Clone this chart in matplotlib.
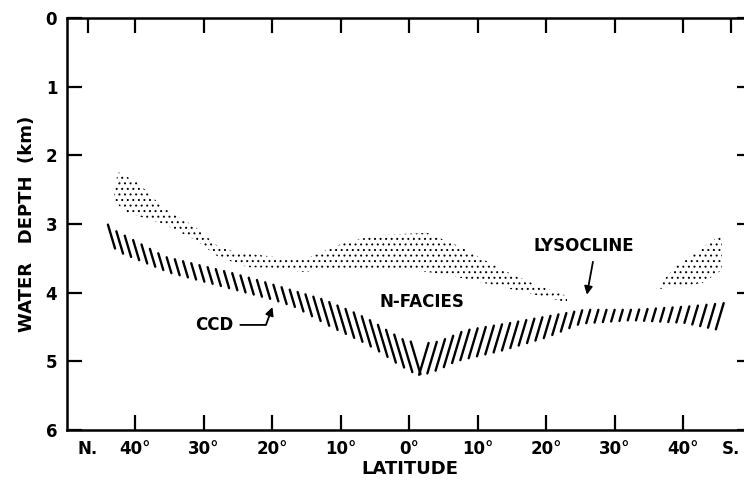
import numpy as np
import matplotlib.pyplot as plt
from matplotlib.collections import LineCollection

# Latitude runs north (negative) to south (positive), depth in km
lyso_top_lat = [-42.6, -39.6, -36.1, -31.3, -27.9, -25.4, -19.6, -14.5, -9.7, -4.7, 2.6, 7.4, 13.6, 18.6, 23.0]
lyso_top_km = [2.24, 2.40, 2.75, 3.04, 3.33, 3.41, 3.48, 3.48, 3.28, 3.16, 3.13, 3.33, 3.67, 3.89, 4.05]
lyso_bot_lat = [-43.2, -41.5, -36.1, -31.3, -27.9, -23.5, -19.6, -15.5, -9.7, -2.4, 3.4, 7.8, 13.6, 23.0]
lyso_bot_km = [2.65, 2.83, 2.99, 3.23, 3.48, 3.63, 3.64, 3.70, 3.64, 3.64, 3.71, 3.79, 3.92, 4.14]

# southern lysocline patch
south_top_lat = [36.1, 39.0, 42.0, 45.6]
south_top_km = [3.93, 3.60, 3.40, 3.15]
south_bot_lat = [36.1, 42.8, 45.6]
south_bot_km = [3.95, 3.86, 3.67]

# carbonate compensation depth band
ccd_lat = [-43.6, -42.6, -35.3, -25.7, -20.3, -17.0, -12.0, -7.2, -4.7, -2.4, 0.1, 2.6, 5.0,
           7.4, 14.2, 20.5, 25.3, 32.6, 40.5, 45.6]
ccd_top = [3.00, 3.09, 3.48, 3.71, 3.86, 3.96, 4.10, 4.30, 4.42, 4.56, 4.70, 4.74, 4.66,
           4.55, 4.44, 4.33, 4.25, 4.25, 4.20, 4.15]
ccd_bot = [3.35, 3.42, 3.71, 3.96, 4.10, 4.21, 4.50, 4.73, 4.88, 5.04, 5.18, 5.20, 5.12,
           5.00, 4.84, 4.65, 4.45, 4.40, 4.44, 4.54]

lat_ticks = [-40, -30, -20, -10, 0, 10, 20, 30, 40]
lat_labels = ['40°', '30°', '20°', '10°', '0°', '10°', '20°', '30°', '40°']
depth_ticks = [0, 1, 2, 3, 4, 5, 6]

plt.rcParams['font.family'] = 'DejaVu Sans'
plt.rcParams['hatch.linewidth'] = 0.7

fig = plt.figure(figsize=(7.44, 4.84), dpi=100)
ax = fig.add_axes([0.090, 0.1116, 0.9207, 0.8512])

# stippled lysocline zones
ax.fill(lyso_top_lat + lyso_bot_lat[::-1], lyso_top_km + lyso_bot_km[::-1],
        facecolor='none', edgecolor='black', linewidth=0, hatch='...')
ax.fill(south_top_lat + south_bot_lat[::-1], south_top_km + south_bot_km[::-1],
        facecolor='none', edgecolor='black', linewidth=0, hatch='...')

# CCD band drawn as slanted strokes, leaning the other way south of the equator
xs = np.arange(-43.5, 45.8, 1.2)
tops = np.interp(xs, ccd_lat, ccd_top)
bots = np.interp(xs, ccd_lat, ccd_bot)
lean = np.where(xs < 1.0, 1.0, -1.0) * 1.5 * (bots - tops)
segs = [[(x - l, t), (x + l, b)] for x, t, b, l in zip(xs, tops, bots, lean)]
ax.add_collection(LineCollection(segs, colors='black', linewidths=1.7, capstyle='round'))

ax.text(1.8, 4.13, 'N-FACIES', ha='center', va='center', fontsize=12, fontweight='bold')
ax.annotate('CCD', xy=(-20.0, 4.21), xytext=(-28.5, 4.47), ha='center', va='center',
            fontsize=12, fontweight='bold',
            arrowprops=dict(arrowstyle='-|>', connectionstyle='angle,angleA=0,angleB=70',
                            color='black', lw=1.3, relpos=(1.0, 0.5), shrinkA=3, shrinkB=0,
                            mutation_scale=12))
ax.annotate('LYSOCLINE', xy=(25.9, 4.03), xytext=(25.5, 3.32), ha='center', va='center',
            fontsize=12, fontweight='bold',
            arrowprops=dict(arrowstyle='-|>', color='black', lw=1.3, relpos=(0.6, 0.0),
                            shrinkA=3, shrinkB=0, mutation_scale=12))

ax.set_xlim(-50, 50)
ax.set_ylim(6, 0)
ax.set_xticks([-47] + lat_ticks + [47])
ax.set_xticklabels(['N.'] + lat_labels + ['S.'], fontweight='bold')
ax.set_yticks(depth_ticks)
ax.set_yticklabels([str(d) for d in depth_ticks], fontweight='bold')
for t in (ax.xaxis.get_major_ticks()[0], ax.xaxis.get_major_ticks()[-1]):
    t.tick1line.set_visible(False)
    t.tick2line.set_visible(False)

ax.tick_params(direction='in', length=11, width=1.6, top=True, right=True,
               labelsize=12, pad=7)
for s in ax.spines.values():
    s.set_linewidth(1.8)

ax.set_xlabel('LATITUDE', fontsize=13, fontweight='bold', labelpad=2)
ax.set_ylabel('WATER   DEPTH  (km)', fontsize=13, fontweight='bold', labelpad=7)

fig.savefig('out.png', dpi=100)
